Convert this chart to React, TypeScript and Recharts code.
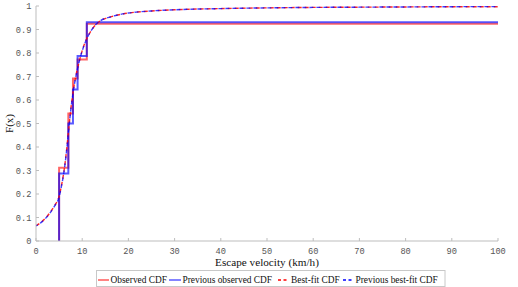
import React from 'react';
import { LineChart, Line, XAxis, YAxis } from 'recharts';

// ---- data ----
const observedX = [5, 5, 7, 8, 9, 11, 100];
const observedF = [0, 0.312, 0.543, 0.692, 0.772, 0.925, 0.925];
const prevObservedX = [5, 5, 7, 8, 9, 11, 100];
const prevObservedF = [0, 0.287, 0.5, 0.645, 0.787, 0.931, 0.931];

const fitX = [0, 1, 2, 3, 4, 5, 5.5, 6, 6.5, 7, 7.5, 8, 8.5, 9, 9.5, 10, 11, 12, 13, 14, 16, 18, 20, 25, 30, 40, 50, 60, 70, 80, 90, 100];
const bestFitF = [0.065, 0.078, 0.096, 0.12, 0.15, 0.19, 0.235, 0.29, 0.365, 0.46, 0.555, 0.63, 0.69, 0.735, 0.775, 0.81, 0.862, 0.897, 0.922, 0.938, 0.953, 0.963, 0.97, 0.979, 0.984, 0.989, 0.992, 0.994, 0.995, 0.996, 0.997, 0.997];
const prevBestFitF = [0.064, 0.077, 0.095, 0.118, 0.148, 0.187, 0.232, 0.287, 0.362, 0.457, 0.552, 0.628, 0.688, 0.734, 0.774, 0.809, 0.861, 0.897, 0.922, 0.938, 0.953, 0.963, 0.97, 0.979, 0.984, 0.989, 0.992, 0.994, 0.995, 0.996, 0.997, 0.998];

const xTicks = [0, 10, 20, 30, 40, 50, 60, 70, 80, 90, 100];
const yTicks = [0, 0.1, 0.2, 0.3, 0.4, 0.5, 0.6, 0.7, 0.8, 0.9, 1];
const yTickLabels = ['0', '0.1', '0.2', '0.3', '0.4', '0.5', '0.6', '0.7', '0.8', '0.9', '1'];

const seriesNames = ['Observed CDF', 'Previous observed CDF', 'Best-fit CDF', 'Previous best-fit CDF'];
const xLabel = 'Escape velocity (km/h)';
const yLabel = 'F(x)';

const toPoints = (xs: number[], ys: number[]) => xs.map((x, i) => ({ x, y: ys[i] }));

// ---- layout / style ----
const W = 518;
const H = 287;
const P = { left: 36, right: 498, top: 6, bottom: 241 };
const FRAME = '#bdbdbd';
const TICK_FONT = '"Liberation Mono", "DejaVu Sans Mono", monospace';
const SERIF = '"Liberation Serif", "DejaVu Serif", serif';
const RED = '#ff0000';
const BLUE = '#0000ff';

const BottomTick = (props: any) => {
  const { x, payload } = props;
  return (
    <g>
      <line x1={x} x2={x} y1={P.bottom} y2={P.bottom - 3} stroke={FRAME} strokeWidth={1} />
      <text x={x} y={P.bottom + 13} textAnchor="middle" fontFamily={TICK_FONT} fontSize={8.7} fill="#555">
        {payload.value}
      </text>
    </g>
  );
};

const TopTick = (props: any) => {
  const { x } = props;
  return <line x1={x} x2={x} y1={P.top} y2={P.top + 3} stroke={FRAME} strokeWidth={1} />;
};

const LeftTick = (props: any) => {
  const { y, payload } = props;
  const idx = yTicks.indexOf(payload.value);
  return (
    <g>
      <line x1={P.left} x2={P.left + 3} y1={y} y2={y} stroke={FRAME} strokeWidth={1} />
      <text x={P.left - 4.5} y={y + 3} textAnchor="end" fontFamily={TICK_FONT} fontSize={8.7} fill="#555">
        {idx >= 0 ? yTickLabels[idx] : String(payload.value)}
      </text>
    </g>
  );
};

const RightTick = (props: any) => {
  const { y } = props;
  return <line x1={P.right} x2={P.right - 3} y1={y} y2={y} stroke={FRAME} strokeWidth={1} />;
};

const Legend = () => {
  const cy = 280;
  return (
    <svg width={W} height={H} style={{ position: 'absolute', left: 0, top: 0, pointerEvents: 'none' }}>
      <rect x={96.5} y={270.5} width={348.5} height={16} fill="#fff" stroke="#c8c8c8" strokeWidth={1} />
      <line x1={98} x2={109} y1={cy} y2={cy} stroke={RED} strokeWidth={1.3} opacity={0.75} />
      <text x={110.5} y={cy + 3.2} fontFamily={SERIF} fontSize={9.4} fill="#111">{seriesNames[0]}</text>
      <line x1={169} x2={181} y1={cy} y2={cy} stroke={BLUE} strokeWidth={1.3} opacity={0.75} />
      <text x={182.5} y={cy + 3.2} fontFamily={SERIF} fontSize={9.4} fill="#111">{seriesNames[1]}</text>
      <line x1={278} x2={289} y1={cy} y2={cy} stroke={RED} strokeWidth={1.3} strokeDasharray="3 2.5" />
      <text x={291} y={cy + 3.2} fontFamily={SERIF} fontSize={9.4} fill="#111">{seriesNames[2]}</text>
      <line x1={343} x2={354} y1={cy} y2={cy} stroke={BLUE} strokeWidth={1.3} strokeDasharray="3 2.5" />
      <text x={355.5} y={cy + 3.2} fontFamily={SERIF} fontSize={9.4} fill="#111">{seriesNames[3]}</text>
    </svg>
  );
};

export default function App() {
  return (
    <div style={{ position: 'fixed', left: 0, top: 0, width: W, height: H, background: '#fff' }}>
      <LineChart
        width={W}
        height={H}
        margin={{ top: P.top, right: W - P.right, bottom: H - P.bottom - 20, left: 0 }}
      >
        <XAxis
          dataKey="x"
          type="number"
          domain={[0, 100]}
          ticks={xTicks}
          height={20}
          axisLine={{ stroke: FRAME }}
          tickLine={false}
          tickSize={0}
          tick={<BottomTick />}
          interval={0}
          allowDataOverflow
        />
        <XAxis
          xAxisId="top"
          orientation="top"
          dataKey="x"
          type="number"
          domain={[0, 100]}
          ticks={xTicks}
          height={0}
          axisLine={{ stroke: FRAME }}
          tickLine={false}
          tickSize={0}
          tick={<TopTick />}
          interval={0}
          allowDataOverflow
        />
        <YAxis
          type="number"
          domain={[0, 1]}
          ticks={yTicks}
          width={P.left}
          axisLine={{ stroke: FRAME }}
          tickLine={false}
          tickSize={0}
          tick={<LeftTick />}
          interval={0}
          allowDataOverflow
        />
        <YAxis
          yAxisId="right"
          orientation="right"
          type="number"
          domain={[0, 1]}
          ticks={yTicks}
          width={0}
          axisLine={{ stroke: FRAME }}
          tickLine={false}
          tickSize={0}
          tick={<RightTick />}
          interval={0}
          allowDataOverflow
        />
        <Line
          data={toPoints(observedX, observedF)}
          dataKey="y"
          type="stepAfter"
          stroke={RED}
          strokeOpacity={0.6}
          strokeWidth={2}
          dot={false}
          activeDot={false}
          isAnimationActive={false}
          name={seriesNames[0]}
        />
        <Line
          data={toPoints(prevObservedX, prevObservedF)}
          dataKey="y"
          type="stepAfter"
          stroke={BLUE}
          strokeOpacity={0.65}
          strokeWidth={2}
          dot={false}
          activeDot={false}
          isAnimationActive={false}
          name={seriesNames[1]}
        />
        <Line
          data={toPoints(fitX, bestFitF)}
          dataKey="y"
          type="monotone"
          stroke={RED}
          strokeOpacity={0.85}
          strokeWidth={1.4}
          strokeDasharray="4 3"
          dot={false}
          activeDot={false}
          isAnimationActive={false}
          name={seriesNames[2]}
        />
        <Line
          data={toPoints(fitX, prevBestFitF)}
          dataKey="y"
          type="monotone"
          stroke={BLUE}
          strokeOpacity={0.75}
          strokeWidth={1.4}
          strokeDasharray="4 3"
          strokeDashoffset={2}
          dot={false}
          activeDot={false}
          isAnimationActive={false}
          name={seriesNames[3]}
        />
      </LineChart>
      <svg width={W} height={H} style={{ position: 'absolute', left: 0, top: 0, pointerEvents: 'none' }}>
        <text x={(P.left + P.right) / 2} y={266} textAnchor="middle" fontFamily={SERIF} fontSize={11.2} fill="#111">
          {xLabel}
        </text>
        <text
          x={13}
          y={(P.top + P.bottom) / 2}
          textAnchor="middle"
          fontFamily={SERIF}
          fontSize={11}
          fill="#111"
          transform={`rotate(-90 13 ${(P.top + P.bottom) / 2})`}
        >
          {yLabel}
        </text>
      </svg>
      <Legend />
    </div>
  );
}
